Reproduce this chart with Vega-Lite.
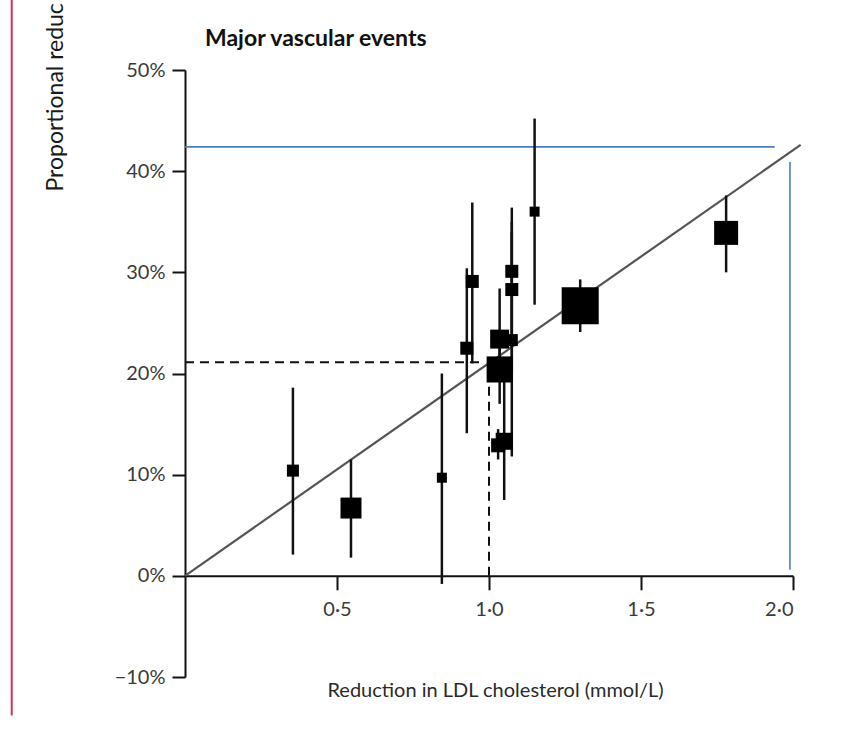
{
  "$schema": "https://vega.github.io/schema/vega-lite/v6.json",
  "width": 608,
  "height": 607,
  "autosize": {"type": "none"},
  "padding": {"left": 185, "top": 70, "right": 62, "bottom": 53},
  "background": "white",
  "config": {"view": {"stroke": null}, "font": "Lato"},
  "title": {"text": "Major vascular events", "anchor": "start", "frame": "group", "dx": 20, "dy": 75, "offset": 22, "fontSize": 23, "fontWeight": "bold", "font": "Lato", "color": "#111111"},
  "datasets": {
    "studies": [
      {"ldl": 0.355, "rr": 10.4, "lo": 2.1, "hi": 18.6, "w": 1.44},
      {"ldl": 0.546, "rr": 6.7, "lo": 1.8, "hi": 11.5, "w": 4.4},
      {"ldl": 0.845, "rr": 9.7, "lo": -0.8, "hi": 20.0, "w": 1.0},
      {"ldl": 0.927, "rr": 22.5, "lo": 14.1, "hi": 30.4, "w": 1.69},
      {"ldl": 0.945, "rr": 29.1, "lo": 21.0, "hi": 36.9, "w": 1.69},
      {"ldl": 1.035, "rr": 23.4, "lo": 20.0, "hi": 28.4, "w": 3.6},
      {"ldl": 1.075, "rr": 23.3, "lo": 11.8, "hi": 34.0, "w": 1.44},
      {"ldl": 1.035, "rr": 20.4, "lo": 17.0, "hi": 23.0, "w": 6.8},
      {"ldl": 1.03, "rr": 12.9, "lo": 11.5, "hi": 14.5, "w": 1.96},
      {"ldl": 1.05, "rr": 13.3, "lo": 7.5, "hi": 19.5, "w": 2.9},
      {"ldl": 1.075, "rr": 30.1, "lo": 23.5, "hi": 36.4, "w": 1.69},
      {"ldl": 1.075, "rr": 28.3, "lo": 20.0, "hi": 35.0, "w": 1.69},
      {"ldl": 1.15, "rr": 36.0, "lo": 26.8, "hi": 45.2, "w": 1.0},
      {"ldl": 1.30, "rr": 26.7, "lo": 24.1, "hi": 29.3, "w": 13.7},
      {"ldl": 1.78, "rr": 33.9, "lo": 30.0, "hi": 37.6, "w": 5.76}
    ],
    "fit": [
      {"ldl": 0, "rr": 0},
      {"ldl": 2.025, "rr": 42.6}
    ],
    "dashed": [
      {"x1": 0, "x2": 0.97, "y1": 21.1, "y2": 21.1},
      {"x1": 1.0, "x2": 1.0, "y1": 0, "y2": 21.1}
    ],
    "blue": [
      {"x1": 0, "x2": 1.94, "y1": 42.4, "y2": 42.4},
      {"x1": 1.99, "x2": 1.99, "y1": 0.6, "y2": 40.9}
    ],
    "margin": [
      {"x1": -0.57, "y1": -13.8, "y2": 57}
    ]
  },
  "layer": [
    {
      "data": {"name": "margin"},
      "mark": {"type": "rule", "color": "#cc3355", "strokeWidth": 2},
      "encoding": {
        "x": {
          "field": "x1", "type": "quantitative",
          "scale": {"domain": [0, 2], "nice": false, "zero": false},
          "axis": {
            "values": [0.5, 1, 1.5, 2],
            "labelExpr": "replace(format(datum.value, '.1f'), '.', '·')",
            "offset": -101.17,
            "domainColor": "#111111", "domainWidth": 2,
            "tickColor": "#111111", "tickWidth": 2, "tickSize": 14,
            "labelFont": "Lato", "labelFontSize": 20, "labelColor": "#3a3a3a", "labelPadding": 10,
            "grid": false,
            "title": "Reduction in LDL cholesterol (mmol/L)",
            "titleFont": "Lato", "titleFontSize": 20, "titleFontWeight": "normal", "titleColor": "#2a2a2a",
            "titleX": 310, "titleY": 115, "titleBaseline": "middle"
          }
        },
        "y": {
          "field": "y1", "type": "quantitative",
          "scale": {"domain": [-10, 50], "nice": false, "zero": false},
          "axis": {
            "values": [-10, 0, 10, 20, 30, 40, 50],
            "labelExpr": "datum.value < 0 ? '−' + (-datum.value) + '%' : datum.value + '%'",
            "domainColor": "#111111", "domainWidth": 2,
            "tickColor": "#111111", "tickWidth": 2, "tickSize": 13,
            "labelFont": "Lato", "labelFontSize": 20, "labelColor": "#3a3a3a", "labelPadding": 7,
            "grid": false,
            "title": "Proportional reduc",
            "titleFont": "Lato", "titleFontSize": 23, "titleFontWeight": "normal", "titleColor": "#1a1a1a",
            "titleAngle": -90, "titleAlign": "left", "titleBaseline": "middle",
            "titleX": -130, "titleY": 121
          }
        },
        "y2": {"field": "y2"}
      }
    },
    {
      "data": {"name": "blue"},
      "mark": {"type": "rule", "color": "#4a7ebf", "strokeWidth": 1.6},
      "encoding": {
        "x": {"field": "x1", "type": "quantitative", "scale": {"domain": [0, 2], "nice": false, "zero": false}},
        "x2": {"field": "x2"},
        "y": {"field": "y1", "type": "quantitative", "scale": {"domain": [-10, 50], "nice": false, "zero": false}},
        "y2": {"field": "y2"}
      }
    },
    {
      "data": {"name": "dashed"},
      "mark": {"type": "rule", "color": "#111111", "strokeWidth": 2, "strokeDash": [9, 6]},
      "encoding": {
        "x": {"field": "x1", "type": "quantitative", "scale": {"domain": [0, 2], "nice": false, "zero": false}},
        "x2": {"field": "x2"},
        "y": {"field": "y1", "type": "quantitative", "scale": {"domain": [-10, 50], "nice": false, "zero": false}},
        "y2": {"field": "y2"}
      }
    },
    {
      "data": {"name": "fit"},
      "mark": {"type": "line", "color": "#555555", "strokeWidth": 2.2},
      "encoding": {
        "x": {"field": "ldl", "type": "quantitative", "scale": {"domain": [0, 2], "nice": false, "zero": false}},
        "y": {"field": "rr", "type": "quantitative", "scale": {"domain": [-10, 50], "nice": false, "zero": false}}
      }
    },
    {
      "data": {"name": "studies"},
      "mark": {"type": "rule", "color": "#111111", "strokeWidth": 2.5},
      "encoding": {
        "x": {"field": "ldl", "type": "quantitative", "scale": {"domain": [0, 2], "nice": false, "zero": false}},
        "y": {"field": "lo", "type": "quantitative", "scale": {"domain": [-10, 50], "nice": false, "zero": false}},
        "y2": {"field": "hi"}
      }
    },
    {
      "data": {"name": "studies"},
      "mark": {"type": "square", "color": "#000000", "opacity": 1, "strokeWidth": 0},
      "encoding": {
        "x": {"field": "ldl", "type": "quantitative", "scale": {"domain": [0, 2], "nice": false, "zero": false}},
        "y": {"field": "rr", "type": "quantitative", "scale": {"domain": [-10, 50], "nice": false, "zero": false}},
        "size": {"field": "w", "type": "quantitative", "scale": {"domain": [0, 14], "range": [0, 1400], "zero": true}, "legend": null}
      }
    }
  ]
}
